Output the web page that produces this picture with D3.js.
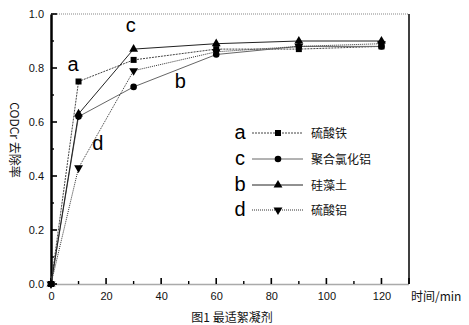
<!DOCTYPE html>
<html><head><meta charset="utf-8">
<script src="https://cdn.jsdelivr.net/npm/d3@7"></script>
<style>body{margin:0;background:#fff}svg{display:block}</style>
</head><body>
<svg id="c" width="469" height="325"></svg>
<script>
const times = [0, 10, 30, 60, 90, 120];
const seriesKeys = ["a", "c", "b", "d"];
const seriesNames = ["硫酸铁", "聚合氯化铝", "硅藻土", "硫酸铝"];
const valuesA = [0, 0.75, 0.83, 0.87, 0.87, 0.88];
const valuesC = [0, 0.62, 0.73, 0.85, 0.88, 0.88];
const valuesB = [0, 0.63, 0.87, 0.89, 0.90, 0.90];
const valuesD = [0, 0.43, 0.79, 0.86, 0.88, 0.89];
const xTicks = [0, 20, 40, 60, 80, 100, 120];
const yTicks = [0.0, 0.2, 0.4, 0.6, 0.8, 1.0];
const xLabel = "时间/min";
const yLabel = "CODCr 去除率";
const caption = "图1 最适絮凝剂";

const series = [
  {key: "a", name: seriesNames[0], values: valuesA, marker: "square", dash: "2,1", color: "#444"},
  {key: "c", name: seriesNames[1], values: valuesC, marker: "circle", dash: null, color: "#666"},
  {key: "b", name: seriesNames[2], values: valuesB, marker: "up", dash: null, color: "#222"},
  {key: "d", name: seriesNames[3], values: valuesD, marker: "down", dash: "1,1", color: "#333"}
];

const svg = d3.select("#c");
const x = d3.scaleLinear().domain([0, 130]).range([51, 409]);
const y = d3.scaleLinear().domain([0, 1]).range([284, 14]);
const font = "Arial, 'Liberation Sans', sans-serif";

// frame top and right
svg.append("line").attr("x1", x(0)).attr("x2", x(130)).attr("y1", y(1)).attr("y2", y(1))
  .attr("stroke", "#888").attr("stroke-width", 1.2).attr("stroke-dasharray", "1,1");
svg.append("line").attr("x1", x(130)).attr("x2", x(130)).attr("y1", y(1)).attr("y2", y(0))
  .attr("stroke", "#000").attr("stroke-width", 1.5);

// x axis
const xAxis = d3.axisBottom(x).tickValues(xTicks).tickSize(0).tickPadding(8).tickFormat(d3.format("d"));
const gx = svg.append("g").attr("transform", `translate(0,${y(0)})`).call(xAxis);
gx.select(".domain").attr("stroke", "#555").attr("stroke-width", 1.6).attr("stroke-dasharray", "1,1");
gx.selectAll("text").attr("font-family", font).attr("font-size", 11).attr("fill", "#111");
// major/minor x ticks inward
const xMinor = d3.range(10, 130, 20);
svg.append("g").selectAll("line").data(xTicks.concat([130])).join("line")
  .attr("x1", d => x(d)).attr("x2", d => x(d)).attr("y1", y(0)).attr("y2", y(0) - 6)
  .attr("stroke", "#000").attr("stroke-width", 1.6);
svg.append("g").selectAll("line").data(xMinor).join("line")
  .attr("x1", d => x(d)).attr("x2", d => x(d)).attr("y1", y(0)).attr("y2", y(0) - 3)
  .attr("stroke", "#000").attr("stroke-width", 1.4);

// y axis
const yAxis = d3.axisLeft(y).tickValues(yTicks).tickSize(0).tickPadding(7).tickFormat(d3.format(".1f"));
const gy = svg.append("g").attr("transform", `translate(${x(0)},0)`).call(yAxis);
gy.select(".domain").attr("stroke", "#000").attr("stroke-width", 2.5);
gy.selectAll("text").attr("font-family", font).attr("font-size", 11).attr("fill", "#111");
svg.append("g").selectAll("line").data(yTicks).join("line")
  .attr("x1", x(0)).attr("x2", x(0) + 6).attr("y1", d => y(d)).attr("y2", d => y(d))
  .attr("stroke", "#000").attr("stroke-width", 1.6);
svg.append("g").selectAll("line").data(d3.range(0.1, 1.0, 0.2)).join("line")
  .attr("x1", x(0)).attr("x2", x(0) + 3).attr("y1", d => y(d)).attr("y2", d => y(d))
  .attr("stroke", "#000").attr("stroke-width", 1.4);

// markers
function drawMarker(g, type, cx, cy) {
  if (type === "square") {
    g.append("rect").attr("x", cx - 3).attr("y", cy - 3).attr("width", 6).attr("height", 6).attr("fill", "#000");
  } else if (type === "circle") {
    g.append("circle").attr("cx", cx).attr("cy", cy).attr("r", 3.3).attr("fill", "#000");
  } else {
    const sym = d3.symbol().type(d3.symbolTriangle).size(34);
    g.append("path").attr("d", sym()).attr("fill", "#000")
      .attr("transform", `translate(${cx},${cy})` + (type === "down" ? " rotate(180)" : ""));
  }
}

const line = d3.line().x((d, i) => x(times[i])).y(d => y(d));
series.forEach(s => {
  svg.append("path").attr("d", line(s.values)).attr("fill", "none")
    .attr("stroke", s.color).attr("stroke-width", 1)
    .attr("stroke-dasharray", s.dash);
});
series.forEach(s => {
  const g = svg.append("g");
  s.values.forEach((v, i) => drawMarker(g, s.marker, x(times[i]), y(v)));
});

// in-plot labels
const inLabels = [
  {t: "a", vx: 8, vy: 0.79},
  {t: "c", vx: 29, vy: 0.935},
  {t: "b", vx: 47, vy: 0.725},
  {t: "d", vx: 17, vy: 0.495}
];
svg.append("g").selectAll("text").data(inLabels).join("text")
  .attr("x", d => x(d.vx)).attr("y", d => y(d.vy))
  .attr("font-family", font).attr("font-size", 20).attr("fill", "#000")
  .attr("text-anchor", "middle").text(d => d.t);

// legend
const legY = [133, 159, 185, 210];
series.forEach((s, i) => {
  const g = svg.append("g");
  g.append("text").attr("x", 240).attr("y", legY[i] + 6).attr("text-anchor", "middle")
    .attr("font-family", font).attr("font-size", 20).text(s.key);
  g.append("line").attr("x1", 252).attr("x2", 303).attr("y1", legY[i]).attr("y2", legY[i])
    .attr("stroke", s.color).attr("stroke-width", 1).attr("stroke-dasharray", s.dash);
  drawMarker(g, s.marker, 278, legY[i]);
  g.append("text").attr("x", 311).attr("y", legY[i] + 4.5)
    .attr("font-family", "'Noto Sans CJK SC', sans-serif").attr("font-size", 12).attr("fill", "#111")
    .text(s.name);
});

// axis labels
svg.append("text").attr("x", 411).attr("y", 301)
  .attr("font-family", "'Noto Sans CJK SC', serif").attr("font-size", 12).attr("fill", "#111").text(xLabel);
svg.append("text").attr("transform", "translate(10,140) rotate(90)")
  .attr("text-anchor", "middle")
  .attr("font-family", "'Noto Sans CJK SC', sans-serif").attr("font-size", 12).attr("fill", "#111").text(yLabel);
svg.append("text").attr("x", 232).attr("y", 322).attr("text-anchor", "middle")
  .attr("font-family", "'Noto Sans CJK SC', sans-serif").attr("font-size", 12).attr("fill", "#111").text(caption);
</script>
</body></html>
